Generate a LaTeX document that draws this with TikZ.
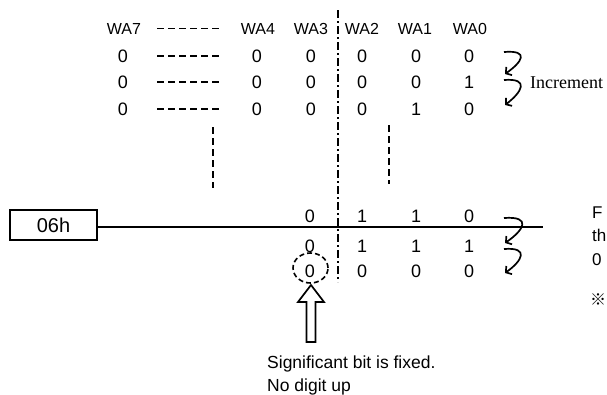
\documentclass[tikz,border=0pt]{standalone}
\usepackage{fontspec}
\setmainfont{Liberation Sans}
\newfontfamily\serifface{Liberation Serif}
\newfontfamily\cjkface{Noto Sans CJK JP}
\usetikzlibrary{arrows.meta,shapes.geometric}
\begin{document}
\begin{tikzpicture}[x=1pt,y=-1pt,
  hdr/.style={inner sep=0pt, anchor=base, font=\fontsize{16}{19}\selectfont},
  dig/.style={inner sep=0pt, anchor=base, font=\fontsize{18}{21}\selectfont},
  side/.style={inner sep=0pt, anchor=base west, font=\fontsize{17}{20}\selectfont},
  dashrow/.style={line width=1.8pt, dash pattern=on 7pt off 4pt},
  vdash/.style={line width=1.8pt, dash pattern=on 7pt off 4pt},
  dashdot/.style={line width=1.5pt, dash pattern=on 8pt off 3pt on 2pt off 3pt},
  incr/.style={line width=1.7pt, -{Straight Barb[length=4pt,width=10pt]}},
  solidline/.style={line width=1.8pt}
]
\useasboundingbox (0,0) rectangle (607,394);

% header
\node[hdr] (h7) at (124,34) {WA7};
\node[hdr] (h4) at (258,34) {WA4};
\node[hdr] (h3) at (311,34) {WA3};
\node[hdr] (h2) at (362,34) {WA2};
\node[hdr] (h1) at (415,34) {WA1};
\node[hdr] (h0) at (470,34) {WA0};

% top rows
\node[dig] (a7) at (123,62) {0};
\node[dig] (a4) at (257,62) {0};
\node[dig] (a3) at (311,62) {0};
\node[dig] (a2) at (362,62) {0};
\node[dig] (a1) at (416,62) {0};
\node[dig] (a0) at (469,62) {0};

\node[dig] (b7) at (123,88) {0};
\node[dig] (b4) at (257,88) {0};
\node[dig] (b3) at (311,88) {0};
\node[dig] (b2) at (362,88) {0};
\node[dig] (b1) at (416,88) {0};
\node[dig] (b0) at (469,88) {1};

\node[dig] (c7) at (123,115) {0};
\node[dig] (c4) at (257,115) {0};
\node[dig] (c3) at (311,115) {0};
\node[dig] (c2) at (362,115) {0};
\node[dig] (c1) at (416,115) {1};
\node[dig] (c0) at (469,115) {0};

% horizontal dashes
\draw[dashrow] (157,0 |- h4) -- (219,0 |- h4);
\draw[dashrow] (157,0 |- a4) -- (219,0 |- a4);
\draw[dashrow] (157,0 |- b4) -- (219,0 |- b4);
\draw[dashrow] (157,0 |- c4) -- (219,0 |- c4);

% vertical dashed lines
\coordinate (vl1) at (213,127);
\coordinate (vl2) at (213,188);
\coordinate (vr1) at (389,125);
\coordinate (vr2) at (389,184);
\draw[vdash] (vl1) -- (vl2);
\draw[vdash] (vr1) -- (vr2);

% dash-dot separator
\coordinate (vtop) at (338,10);
\coordinate (vbot) at (338,282);
\draw[dashdot] (vtop) -- (vbot);

% increment arrows (top)
\draw[incr] (504,52) .. controls (530,50) and (522,62) .. (505,74);
\draw[incr] (504,80) .. controls (530,78) and (522,92) .. (505,105);
\node[inner sep=0pt, anchor=base west, font=\serifface\fontsize{18}{21}\selectfont] (inc) at (530,88) {Increment};

% box and line
\node[draw, solidline, minimum width=87pt, minimum height=30pt, inner sep=0pt,
      font=\fontsize{20}{24}\selectfont] (box) at (53.5,225) {06h};
\coordinate (lend) at (543,227);
\draw[solidline] (box.east |- lend) -- (lend);

% lower rows
\node[dig] (d3) at (310,222) {0};
\node[dig] (d2) at (362,222) {1};
\node[dig] (d1) at (416,222) {1};
\node[dig] (d0) at (469,222) {0};

\node[dig] (e3) at (310,252) {0};
\node[dig] (e2) at (362,252) {1};
\node[dig] (e1) at (416,252) {1};
\node[dig] (e0) at (469,252) {1};

\node[dig] (f3) at (310,277) {0};
\node[dig] (f2) at (362,277) {0};
\node[dig] (f1) at (416,277) {0};
\node[dig] (f0) at (469,277) {0};

% lower arrows
\draw[incr] (504,218) .. controls (532,216) and (524,230) .. (505,243);
\draw[incr] (504,249) .. controls (530,247) and (522,261) .. (505,273);

% dashed ellipse
\node[draw, ellipse, line width=1.6pt, dash pattern=on 5pt off 3pt,
      minimum width=35pt, minimum height=30pt, inner sep=0pt] (circ) at (310.5,268) {};

% block up arrow
\coordinate (tip) at (311,285);
\draw[line width=1.7pt, line join=miter] (tip) -- ++(13,17) -- ++(-8.5,0) -- ++(0,40)
      -- ++(-9,0) -- ++(0,-40) -- ++(-8.5,0) -- cycle;

% note
\node[inner sep=0pt, anchor=base west, font=\fontsize{17.5}{21}\selectfont] (n1) at (267,368) {Significant bit is fixed.};
\node[inner sep=0pt, anchor=base west, font=\fontsize{17.5}{21}\selectfont] (n2) at (267,391) {No digit up};

% right side
\node[side] (s1) at (592,218) {F};
\node[side] (s2) at (592,241) {th};
\node[side] (s3) at (592,265) {0};
\node[side, font=\cjkface\fontsize{16}{19}\selectfont] (s4) at (590,305) {※};
\end{tikzpicture}
\end{document}
